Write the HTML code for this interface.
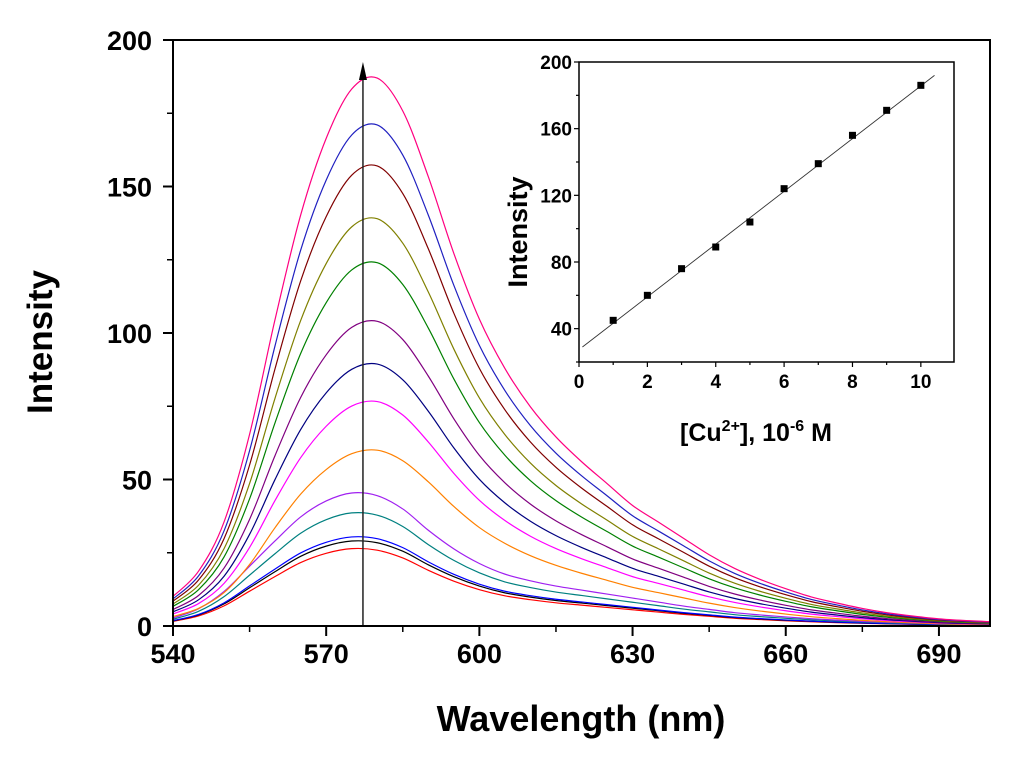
<!DOCTYPE html>
<html><head><meta charset="utf-8"><style>
html,body{margin:0;padding:0;background:#fff;}
svg{display:block;font-family:"Liberation Sans",Arial,sans-serif;}
</style></head><body>
<svg id="chart" width="1024" height="759" viewBox="0 0 1024 759" xmlns="http://www.w3.org/2000/svg"></svg>
<script>
// Main chart data
const wavelengths = [540,545,550,555,560,565,570,575,580,585,590,595,600,605,610,615,620,625,630,635,640,645,650,655,660,665,670,675,680,685,690,695,700];
const shapeHigh = [0.054,0.10,0.19,0.35,0.56,0.75,0.89,0.98,1.0,0.94,0.82,0.68,0.56,0.47,0.40,0.345,0.30,0.26,0.22,0.19,0.16,0.13,0.105,0.085,0.068,0.053,0.042,0.032,0.024,0.018,0.013,0.01,0.008];
const shapeLow = [0.06,0.13,0.26,0.45,0.64,0.82,0.94,1.0,0.98,0.88,0.72,0.58,0.47,0.39,0.34,0.30,0.27,0.24,0.21,0.18,0.15,0.125,0.10,0.083,0.068,0.055,0.044,0.035,0.028,0.022,0.017,0.013,0.01];
const peakValues = [26.4,29,30.4,38.6,45.4,60,76.6,89.4,104,124,139,157,171,187];
const useLowShape = [true,true,true,true,true,false,false,false,false,false,false,false,false,false];
const seriesColors = ["#ff0000","#000000","#0000ff","#008080","#a020f0","#ff8000","#ff00ff","#000080","#800080","#008000","#808000","#800000","#2020c0","#ff0080"];
const xTicks = [540,570,600,630,660,690];
const yTicks = [0,50,100,150,200];
// Inset data
const insetConc = [1,2,3,4,5,6,7,8,9,10];
const insetIntensity = [45,60,76,89,104,124,139,156,171,186];
const insetFitX = [0.1,10.4];
const insetFitY = [29,192];
const insetXTicks = [0,2,4,6,8,10];
const insetYTicks = [40,80,120,160,200];

const NS="http://www.w3.org/2000/svg";
const svg=document.getElementById('chart');
function mk(tag,attrs,parent){const e=document.createElementNS(NS,tag);for(const k in attrs)e.setAttribute(k,attrs[k]);(parent||svg).appendChild(e);return e;}

const L=173,R=990,T=40,B=626;
const xMin=540,xMax=700,yMin=0,yMax=200;
const sx=v=>L+(v-xMin)/(xMax-xMin)*(R-L);
const sy=v=>B-(v-yMin)/(yMax-yMin)*(B-T);

function smooth(pts){let d=`M${pts[0][0]},${pts[0][1]}`;for(let i=0;i<pts.length-1;i++){const p0=pts[i-1]||pts[i],p1=pts[i],p2=pts[i+1],p3=pts[i+2]||p2;
const c1=[p1[0]+(p2[0]-p0[0])/6,p1[1]+(p2[1]-p0[1])/6],c2=[p2[0]-(p3[0]-p1[0])/6,p2[1]-(p3[1]-p1[1])/6];
d+=` C${c1[0]},${c1[1]} ${c2[0]},${c2[1]} ${p2[0]},${p2[1]}`;}return d;}

const gS=mk('g',{});


peakValues.forEach((pk,i)=>{
  const sh=useLowShape[i]?shapeLow:shapeHigh;
  const pts=wavelengths.map((w,j)=>[sx(w),sy(pk*sh[j])]);
  const p=mk('path',{d:smooth(pts),fill:'none',stroke:seriesColors[i],'stroke-width':1.2},gS);
  
  
});
const ax=sx(577.2);
const arr=mk('g',{});


mk('line',{x1:ax,y1:B,x2:ax,y2:T+36,stroke:'#222','stroke-width':1.5},arr);
mk('path',{d:`M${ax-4},${T+40} L${ax},${T+22} L${ax+4},${T+40} Z`,fill:'#000'},arr);

const fr=mk('rect',{x:L,y:T,width:R-L,height:B-T,fill:'none',stroke:'#000','stroke-width':2});


xTicks.forEach(v=>{
  mk('line',{x1:sx(v),y1:B,x2:sx(v),y2:B+10,stroke:'#000','stroke-width':2});
  const t=mk('text',{x:sx(v),y:B+37,'text-anchor':'middle','font-size':27,'font-weight':'bold'});t.textContent=v;
  
  
  if(v+15<xMax) mk('line',{x1:sx(v+15),y1:B,x2:sx(v+15),y2:B+6,stroke:'#000','stroke-width':1.5});
});
yTicks.forEach(v=>{
  mk('line',{x1:L-10,y1:sy(v),x2:L,y2:sy(v),stroke:'#000','stroke-width':2});
  const t=mk('text',{x:L-21,y:sy(v)+10,'text-anchor':'end','font-size':27,'font-weight':'bold'});t.textContent=v;
  
  
  if(v+25<=yMax) mk('line',{x1:L-6,y1:sy(v+25),x2:L,y2:sy(v+25),stroke:'#000','stroke-width':1.5});
});
let t=mk('text',{x:581,y:731,'text-anchor':'middle','font-size':36,'font-weight':'bold'});t.textContent='Wavelength (nm)';


t=mk('text',{x:0,y:0,'text-anchor':'middle','font-size':35,'font-weight':'bold',transform:'translate(52,342) rotate(-90)'});t.textContent='Intensity';



// inset
const iL=579,iR=954,iT=62,iB=362;
const ixMin=0,ixMax=10.97,iyMin=20,iyMax=200;
const isx=v=>iL+(v-ixMin)/(ixMax-ixMin)*(iR-iL);
const isy=v=>iB-(v-iyMin)/(iyMax-iyMin)*(iB-iT);
const gI=mk('g',{});


mk('rect',{x:iL,y:iT,width:iR-iL,height:iB-iT,fill:'#fff',stroke:'#000','stroke-width':1.5},gI);
const fit=mk('line',{x1:isx(insetFitX[0]),y1:isy(insetFitY[0]),x2:isx(insetFitX[1]),y2:isy(insetFitY[1]),stroke:'#333','stroke-width':0.9},gI);


insetConc.forEach((c,i)=>{
  const r=mk('rect',{x:isx(c)-3.5,y:isy(insetIntensity[i])-3.5,width:7,height:7,fill:'#000'},gI);
  
  
});
for(let v=0;v<=10;v++){mk('line',{x1:isx(v),y1:iB,x2:isx(v),y2:iB+(v%2?3:5),stroke:'#000','stroke-width':1.2},gI);}
insetXTicks.forEach(v=>{const tt=mk('text',{x:isx(v),y:iB+26,'text-anchor':'middle','font-size':19,'font-weight':'bold'},gI);tt.textContent=v;
  
  });
for(let v=20;v<=200;v+=20){mk('line',{x1:iL-(v%40?3:5),y1:isy(v),x2:iL,y2:isy(v),stroke:'#000','stroke-width':1.2},gI);}
insetYTicks.forEach(v=>{const tt=mk('text',{x:iL-7,y:isy(v)+7,'text-anchor':'end','font-size':19,'font-weight':'bold'},gI);tt.textContent=v;
  
  });
t=mk('text',{x:756,y:441,'text-anchor':'middle','font-size':25,'font-weight':'bold'},gI);
t.innerHTML='[Cu<tspan dy="-10" font-size="16">2+</tspan><tspan dy="10">], 10</tspan><tspan dy="-10" font-size="16">-6</tspan><tspan dy="10"> M</tspan>';


t=mk('text',{x:0,y:0,'text-anchor':'middle','font-size':27,'font-weight':'bold',transform:'translate(527,232) rotate(-90)'},gI);t.textContent='Intensity';


</script>
</body></html>
